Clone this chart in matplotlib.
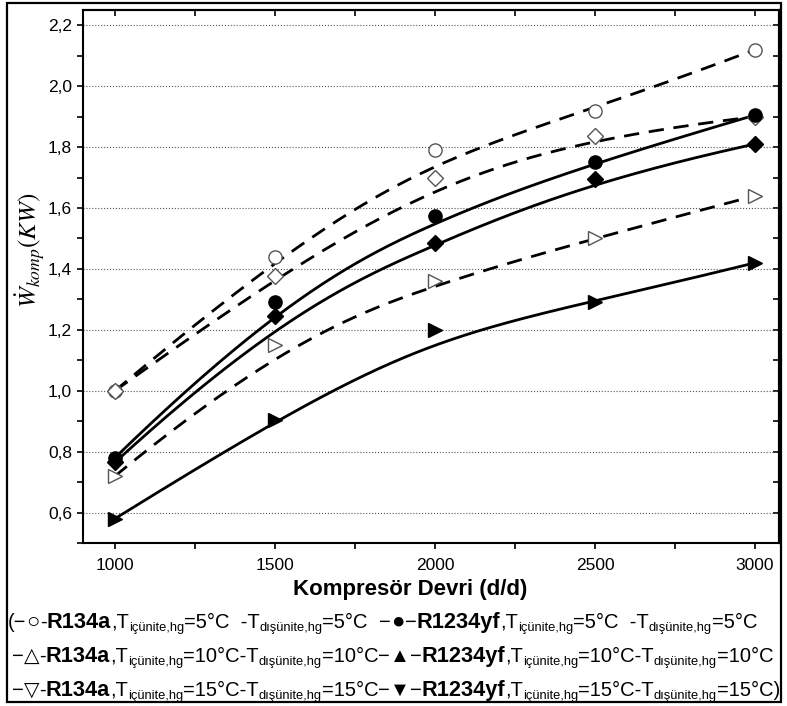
import numpy as np
import matplotlib
matplotlib.use('Agg')
import matplotlib.pyplot as plt
from matplotlib.ticker import FixedLocator, FixedFormatter, MultipleLocator
from matplotlib.patches import Rectangle

##################  FONTS  ###################

plt.rcParams['font.family'] = ['Liberation Sans', 'DejaVu Sans']
plt.rcParams['mathtext.fontset'] = 'stix'

###################  DATA  ###################

rpm = [1000, 1500, 2000, 2500, 3000]

r134a_5 = [1.00, 1.44, 1.79, 1.92, 2.12]
r134a_10 = [1.00, 1.375, 1.70, 1.835, 1.90]
r134a_15 = [0.72, 1.15, 1.36, 1.50, 1.64]
r1234yf_5 = [0.78, 1.29, 1.575, 1.75, 1.905]
r1234yf_10 = [0.765, 1.245, 1.485, 1.695, 1.81]
r1234yf_15 = [0.58, 0.905, 1.20, 1.29, 1.42]

xticks = [1000, 1500, 2000, 2500, 3000]
xtick_labels = ['1000', '1500', '2000', '2500', '3000']
yticks = [0.6, 0.8, 1.0, 1.2, 1.4, 1.6, 1.8, 2.0, 2.2]
ytick_labels = ['0,6', '0,8', '1,0', '1,2', '1,4', '1,6', '1,8', '2,0', '2,2']

#################  B-SPLINE  #################

def bspline(px, py, n=300, k=3):
    # clamped B-spline using the points as control points
    px, py = np.asarray(px, float), np.asarray(py, float)
    m = len(px)
    knots = np.concatenate([np.zeros(k), np.arange(m - k + 1), np.full(k, m - k)]).astype(float)
    t = np.linspace(0, m - k, n)
    t[-1] -= 1e-9

    def basis(i, p, t):
        if p == 0:
            return ((knots[i] <= t) & (t < knots[i+1])).astype(float)
        out = np.zeros_like(t)
        d1 = knots[i+p] - knots[i]
        d2 = knots[i+p+1] - knots[i+1]
        if d1 > 0:
            out += (t - knots[i]) / d1 * basis(i, p-1, t)
        if d2 > 0:
            out += (knots[i+p+1] - t) / d2 * basis(i+1, p-1, t)
        return out

    B = np.array([basis(i, k, t) for i in range(m)])
    return px @ B, py @ B

################  PLOT SETUP  ################

W, H = 787, 706
fig = plt.figure(figsize=(W/100, H/100), dpi=100)
ax = fig.add_axes([83/W, 1-543/H, (779-83)/W, (543-10)/H])

dash = (0, (5.5, 3.5))
series = [
    (r134a_5,    'o', 'white', '#555555', dash),
    (r134a_10,   'D', 'white', '#555555', dash),
    (r134a_15,   '>', 'white', '#555555', dash),
    (r1234yf_5,  'o', 'black', 'black', '-'),
    (r1234yf_10, 'D', 'black', 'black', '-'),
    (r1234yf_15, '>', 'black', 'black', '-'),
]

for vals, mk, fc, ec, ls in series:
    bx, by = bspline(rpm, vals)
    ax.plot(bx, by, color='black', lw=2.0, linestyle=ls, zorder=2)
    ms = 8.5 if mk == 'D' else 9.5
    ax.plot(rpm, vals, linestyle='none', marker=mk, ms=ms, mfc=fc, mec=ec, mew=1.0, zorder=3)

ax.set_xlim(900, 3075)
ax.set_ylim(0.5, 2.25)

ax.xaxis.set_major_locator(FixedLocator(xticks))
ax.xaxis.set_major_formatter(FixedFormatter(xtick_labels))
ax.xaxis.set_minor_locator(MultipleLocator(250))
ax.yaxis.set_major_locator(FixedLocator(yticks))
ax.yaxis.set_major_formatter(FixedFormatter(ytick_labels))
ax.yaxis.set_minor_locator(MultipleLocator(0.1))

ax.tick_params(which='both', direction='out', length=4.5, width=1.2, labelsize=12.5)
ax.tick_params(axis='x', pad=6)
ax.grid(axis='y', which='major', linestyle=':', color='#555555', lw=0.8)

# mirrored ticks pointing inwards on top and right
top = ax.secondary_xaxis('top')
top.xaxis.set_major_locator(FixedLocator(xticks))
top.xaxis.set_minor_locator(MultipleLocator(250))
top.tick_params(which='both', direction='in', length=4.5, width=1.2, labeltop=False)
right = ax.secondary_yaxis('right')
right.yaxis.set_major_locator(FixedLocator(yticks))
right.yaxis.set_minor_locator(MultipleLocator(0.1))
right.tick_params(which='both', direction='in', length=4.5, width=1.2, labelright=False)

for a in [ax, top, right]:
    for s in a.spines.values():
        s.set_linewidth(1.5)

fig.text(410/W, 1-589/H, 'Kompresör Devri (d/d)', fontsize=16, fontweight='bold',
         ha='center', va='center')
fig.text(30/W, 1-250/H, r'$\dot{W}_{komp}(KW)$', fontsize=18, rotation=90,
         ha='center', va='center')

##################  LEGEND  ##################

renderer = fig.canvas.get_renderer()

def rich_line(x0, ybase, parts):
    x = x0
    for s, size, bold, dy in parts:
        t = fig.text(x/W, 1-(ybase+dy)/H, s, fontsize=size,
                     fontweight='bold' if bold else 'normal', va='baseline', ha='left')
        x += t.get_window_extent(renderer).width
    return x

N, B, S, M = 14.5, 15.7, 9.3, 16
sub_i = ('içünite,hg', S, False, 3)
sub_d = ('dışünite,hg', S, False, 3)

rich_line(8, 628, [('(−', N, False, 0), ('○', M, False, 0), ('-', N, False, 0),
                   ('R134a', B, True, 0), (',T', N, False, 0), sub_i,
                   ('=5°C  -T', N, False, 0), sub_d, ('=5°C  ', N, False, 0),
                   ('−', N, False, 0), ('●', M, False, 0), ('−', N, False, 0),
                   ('R1234yf', B, True, 0), (',T', N, False, 0), sub_i,
                   ('=5°C  -T', N, False, 0), sub_d, ('=5°C', N, False, 0)])
rich_line(12, 662, [('−', N, False, 0), ('△', N, False, 0), ('-', N, False, 0),
                    ('R134a', B, True, 0), (',T', N, False, 0), sub_i,
                    ('=10°C-T', N, False, 0), sub_d, ('=10°C', N, False, 0),
                    ('−', N, False, 0), ('▲', N, False, 0), ('−', N, False, 0),
                    ('R1234yf', B, True, 0), (',T', N, False, 0), sub_i,
                    ('=10°C-T', N, False, 0), sub_d, ('=10°C', N, False, 0)])
rich_line(12, 696, [('−', N, False, 0), ('▽', N, False, 0), ('-', N, False, 0),
                    ('R134a', B, True, 0), (',T', N, False, 0), sub_i,
                    ('=15°C-T', N, False, 0), sub_d, ('=15°C', N, False, 0),
                    ('−', N, False, 0), ('▼', N, False, 0), ('−', N, False, 0),
                    ('R1234yf', B, True, 0), (',T', N, False, 0), sub_i,
                    ('=15°C-T', N, False, 0), sub_d, ('=15°C)', N, False, 0)])

# frame around the whole figure
fig.patches.append(Rectangle((7/W, 1-702/H), (781-7)/W, (702-3)/H, transform=fig.transFigure,
                             fill=False, lw=1.6, ec='black'))

##################  OUTPUT  ##################

fig.savefig('out.png', dpi=100)
